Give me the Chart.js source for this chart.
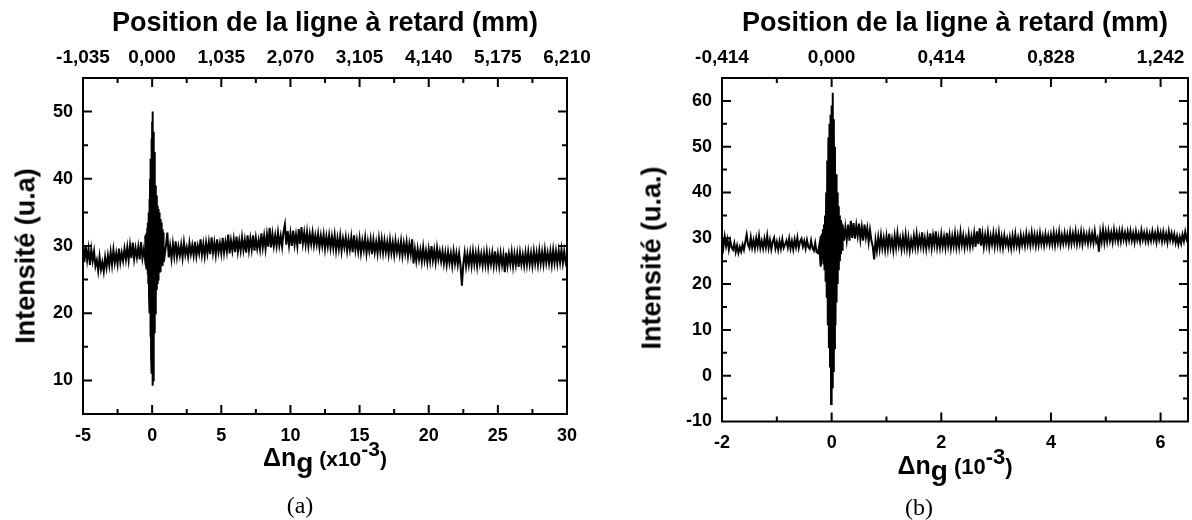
<!DOCTYPE html>
<html>
<head>
<meta charset="utf-8">
<script src="https://cdn.jsdelivr.net/npm/chart.js@4.4.1/dist/chart.umd.min.js"></script>
<style>
  html, body { margin: 0; padding: 0; background: #fff; }
  #page { position: relative; width: 1192px; height: 520px; overflow: hidden; font-family: 'Liberation Sans', Arial, sans-serif; color: #000; }
  canvas { position: absolute; top: 0; }
  #chartA { left: 0; }
  #chartB { left: 600px; }
  .ytitle { position: absolute; font-weight: bold; font-size: 27px; line-height: 1; white-space: nowrap; transform: translate(-50%, -50%) rotate(-90deg); }
  .xtitle { position: absolute; font-weight: bold; line-height: 1; white-space: nowrap; transform: translateX(-50%); }
  .caption { position: absolute; font-family: 'Liberation Serif', 'Times New Roman', serif; font-size: 24px; line-height: 1; transform: translateX(-50%); }
</style>
</head>
<body>
<div id="page">
  <canvas id="chartA" width="600" height="520"></canvas>
  <canvas id="chartB" width="592" height="520"></canvas>

  <div class="ytitle" style="left:26px; top:256px">Intensité (u.a)</div>
  <div class="ytitle" style="left:652px; top:258px">Intensité (u.a.)</div>

  <div class="xtitle" style="left:325px; top:443px; font-size:25px"><span>Δn</span><span style="font-size:28px; position:relative; top:6px">g</span><span style="font-size:21px"> (x10</span><span style="font-size:21px; position:relative; top:-10px">-3</span><span style="font-size:21px">)</span></div>
  <div class="xtitle" style="left:955px; top:451px; font-size:25px"><span>Δn</span><span style="font-size:28px; position:relative; top:6px">g</span><span style="font-size:22px"> (10</span><span style="font-size:22px; position:relative; top:-10px">-3</span><span style="font-size:22px">)</span></div>

  <div class="caption" style="left:300px; top:493px">(a)</div>
  <div class="caption" style="left:919px; top:495px">(b)</div>
</div>

<script>
// Panel (a): delta n_g from -5 to 30 (x10^-3), one sample every 0.1
const traceAStart = -5;
const traceAStep = 0.1;
const intensityA = [
  30.4, 27.6, 30.0, 27.9, 29.6, 27.2, 29.5, 27.8, 29.2, 27.0,
  27.9, 26.3, 28.4, 26.5, 27.6, 26.2, 28.3, 26.8, 28.6, 27.1,
  29.1, 27.2, 29.4, 27.5, 28.9, 27.3, 29.6, 27.6, 29.0, 27.8,
  29.6, 28.0, 29.8, 27.9, 30.1, 28.2, 30.5, 28.1, 29.7, 28.3,
  29.9, 28.0, 30.6, 28.2, 29.5, 27.9, 30.2, 28.3, 29.8, 28.4,
  29.0, 28.3, 30.4, 28.1, 30.2, 28.4, 30.6, 28.3, 29.9, 28.5,
  30.1, 32.0, 28.3, 30.0, 28.1, 30.3, 28.5, 30.7, 28.4, 29.9,
  28.6, 30.2, 28.3, 30.5, 28.7, 29.8, 28.4, 30.4, 28.8, 30.1,
  28.6, 30.6, 28.5, 30.0, 28.9, 31.0, 28.7, 30.3, 28.5, 30.5,
  28.9, 30.6, 28.8, 31.3, 29.0, 30.5, 28.7, 31.0, 29.1, 30.4,
  28.9, 31.2, 29.0, 30.6, 29.2, 31.7, 28.9, 30.8, 29.3, 31.0,
  29.1, 31.4, 29.2, 30.8, 29.3, 31.3, 29.4, 30.9, 29.0, 31.6,
  29.4, 31.1, 29.5, 31.6, 29.3, 31.2, 29.6, 30.9, 29.5, 31.9,
  29.8, 31.5, 29.6, 31.7, 29.9, 32.7, 29.8, 31.8, 30.0, 31.6,
  30.0, 32.0, 30.1, 31.5, 29.9, 32.1, 33.2, 30.2, 32.2, 30.1,
  31.9, 30.0, 32.3, 30.2, 31.7, 30.0, 32.5, 30.3, 32.8, 30.4,
  32.0, 30.2, 32.1, 30.0, 31.8, 30.3, 32.0, 30.1, 31.6, 30.2,
  31.8, 29.8, 31.5, 30.0, 31.7, 29.6, 31.4, 29.9, 31.6, 29.7,
  31.4, 29.7, 31.6, 29.4, 31.2, 29.6, 31.5, 29.3, 31.1, 29.8,
  31.3, 29.3, 31.0, 29.5, 31.3, 29.1, 31.6, 29.4, 30.9, 29.2,
  31.1, 29.0, 30.8, 29.4, 31.2, 28.9, 30.7, 29.3, 31.0, 28.8,
  30.9, 29.1, 30.6, 28.9, 31.1, 29.2, 31.0, 29.0, 30.8, 29.1,
  30.6, 28.8, 30.9, 29.0, 30.5, 28.7, 30.8, 29.1, 30.4, 28.8,
  30.7, 28.6, 30.4, 28.9, 30.6, 28.5, 30.3, 28.8, 31.0, 27.4,
  29.5, 27.8, 29.6, 28.0, 29.4, 27.7, 29.8, 27.9, 29.3, 27.6,
  29.5, 27.8, 30.0, 27.9, 29.4, 27.6, 29.7, 28.0, 29.2, 27.7,
  29.2, 27.4, 29.0, 27.2, 29.1, 27.5, 28.9, 27.1, 29.2, 27.4,
  28.9, 27.2, 28.9, 27.1, 24.1, 27.3, 29.0, 27.0, 28.8, 27.2,
  29.0, 27.1, 29.2, 27.3, 28.9, 27.0, 29.1, 27.4, 28.8, 27.1,
  28.9, 27.2, 29.1, 27.0, 28.8, 27.3, 29.0, 27.1, 29.2, 27.2,
  28.8, 27.0, 28.9, 27.2, 28.7, 26.1, 29.0, 27.1, 28.8, 27.3,
  29.1, 27.0, 28.8, 27.2, 28.9, 26.9, 29.0, 27.3, 28.7, 27.1,
  29.0, 27.2, 29.1, 27.3, 28.9, 27.1, 29.2, 27.4, 29.0, 27.2,
  29.3, 27.4, 29.1, 27.3, 29.4, 27.5, 29.0, 27.4, 29.2, 27.3,
  29.4, 27.5, 29.2, 27.4, 29.3, 27.6, 29.5, 27.5, 29.2, 27.6,
  28.4
];
// interference burst around zero delay, panel (a)
const burstAx = [
  -0.5, -0.475, -0.45, -0.425, -0.4, -0.375, -0.35, -0.325, -0.3, -0.275,
  -0.25, -0.225, -0.2, -0.175, -0.15, -0.125, -0.1, -0.075, -0.05, -0.025,
  0, 0.025, 0.05, 0.075, 0.1, 0.125, 0.15, 0.175, 0.2, 0.225,
  0.25, 0.275, 0.3, 0.325, 0.35, 0.375, 0.4, 0.425, 0.45, 0.475,
  0.5, 0.525, 0.55, 0.575, 0.6, 0.625, 0.65, 0.675, 0.7, 0.725,
  0.75, 0.775, 0.8, 0.825
];
const burstAy = [
  31.5, 27.2, 31.7, 27.0, 32.0, 26.5, 32.7, 25.8, 33.5, 24.5,
  35.0, 22.5, 37.0, 20.0, 40.0, 16.5, 43.0, 13.5, 46.0, 11.0,
  48.5, 9.2, 50.0, 10.0, 47.0, 13.5, 44.0, 17.0, 41.0, 20.0,
  39.0, 22.0, 37.5, 23.5, 36.5, 24.5, 36.0, 25.0, 35.5, 25.8,
  35.0, 26.0, 34.5, 26.3, 34.0, 26.6, 33.5, 27.0, 33.0, 27.2,
  32.5, 27.4, 32.0, 27.6
];
const topLabelsA = ['-1,035', '0,000', '1,035', '2,070', '3,105', '4,140', '5,175', '6,210'];

// Panel (b): delta n_g from -2 to 6.5 (10^-3), one sample every 0.025
const traceBStart = -2;
const traceBStep = 0.025;
const intensityB = [
  30.1, 28.0, 30.4, 28.3, 29.8, 27.6, 29.5, 28.0, 27.5, 28.9,
  27.0, 28.4, 26.8, 28.1, 27.1, 28.6, 27.5, 29.2, 30.8, 28.6,
  27.9, 30.2, 28.0, 29.6, 27.8, 30.0, 28.2, 30.5, 27.9, 29.4,
  27.8, 29.9, 28.1, 30.5, 27.9, 29.6, 27.6, 29.3, 30.1, 27.8,
  29.2, 27.5, 29.4, 27.8, 29.8, 27.9, 28.6, 29.5, 28.0, 29.9,
  27.8, 29.4, 27.6, 29.7, 28.1, 30.1, 27.9, 29.3, 29.9, 28.2,
  29.4, 27.8, 29.6, 28.1, 27.7, 29.5, 27.9, 27.3, 29.0, 27.0,
  26.8, 28.5, 23.8, 27.0, 29.2, 26.6, 29.6, 27.5, 30.4, 27.0,
  29.5, 28.0, 31.0, 27.5, 31.5, 28.3, 32.0, 29.0, 32.6, 29.5,
  32.4, 29.7, 33.0, 29.5, 33.8, 30.1, 33.3, 29.9, 32.8, 30.5,
  33.2, 29.8, 32.4, 29.5, 33.0, 30.2, 32.2, 29.2, 31.8, 29.5,
  28.2, 25.4, 29.6, 27.3, 30.2, 27.7, 30.6, 27.9, 30.0, 27.5,
  30.4, 27.8, 31.0, 28.0, 29.8, 27.4, 30.5, 28.0, 31.1, 28.3,
  30.0, 27.6, 30.3, 28.0, 30.8, 27.8, 30.1, 27.3, 29.7, 27.9,
  30.5, 28.1, 30.9, 28.0, 30.2, 28.3, 31.3, 28.0, 30.0, 27.7,
  30.4, 28.3, 31.1, 27.9, 30.6, 28.5, 31.5, 28.1, 30.2, 28.0,
  30.8, 28.2, 30.3, 28.0, 31.2, 28.4, 30.7, 27.9, 30.4, 28.3,
  31.0, 28.1, 30.5, 28.2, 31.3, 28.6, 30.6, 28.0, 30.2, 28.4,
  30.9, 28.2, 30.4, 28.5, 31.1, 28.1, 31.5, 28.7, 32.2, 28.4,
  31.0, 28.2, 30.7, 28.6, 31.2, 28.1, 30.5, 28.7, 31.1, 28.3,
  30.8, 28.5, 31.2, 28.2, 30.3, 28.0, 30.6, 28.6, 30.0, 28.1,
  30.2, 27.9, 30.5, 28.3, 30.9, 28.4, 30.1, 28.0, 30.7, 28.6,
  30.4, 28.4, 31.0, 28.7, 30.6, 28.5, 31.2, 28.8, 30.8, 28.4,
  30.7, 28.6, 31.1, 28.8, 30.5, 28.5, 30.9, 28.9, 30.6, 28.7,
  30.8, 28.8, 31.2, 28.6, 30.9, 29.0, 31.4, 28.7, 30.7, 28.9,
  31.1, 29.0, 30.8, 28.7, 31.3, 28.9, 31.0, 29.1, 31.5, 28.8,
  30.9, 29.0, 31.4, 28.8, 31.1, 29.2, 30.8, 28.9, 31.2, 29.1,
  31.0, 29.0, 31.5, 29.2, 30.1, 27.1, 31.3, 29.3, 31.9, 29.1,
  31.4, 29.3, 31.6, 29.5, 31.2, 29.2, 31.8, 29.6, 31.3, 29.3,
  31.5, 29.4, 31.7, 29.7, 31.2, 29.3, 31.4, 29.6, 31.6, 29.5,
  31.1, 29.2, 31.5, 29.6, 31.0, 29.3, 31.7, 29.7, 31.2, 29.4,
  31.3, 29.3, 31.0, 29.5, 31.5, 29.6, 31.1, 29.2, 31.6, 29.7,
  31.2, 29.3, 31.4, 29.5, 31.0, 29.1, 31.5, 29.6, 31.1, 29.4,
  30.9, 29.0, 30.5, 28.7, 30.3, 28.9, 30.8, 29.4, 31.4, 29.8,
  30.7
];
// interference burst around zero delay, panel (b)
const burstBx = [
  -0.20, -0.19, -0.18, -0.17, -0.16, -0.15, -0.14, -0.13, -0.12, -0.11,
  -0.10, -0.09, -0.08, -0.07, -0.06, -0.05, -0.04, -0.03, -0.02, -0.01,
  0.00, 0.01, 0.02, 0.03, 0.04, 0.05, 0.06, 0.07, 0.08, 0.09,
  0.10, 0.11, 0.12, 0.13, 0.14, 0.15, 0.16, 0.17, 0.18, 0.19,
  0.20
];
const burstBy = [
  30.5, 26.5, 31.0, 25.5, 32.0, 24.5, 33.0, 23.0, 35.0, 20.5,
  40.0, 17.0, 47.0, 11.0, 52.0, 6.0, 55.0, 2.0, 57.0, -6.2,
  59.0, -2.5, 61.8, 1.0, 56.0, 6.0, 50.0, 11.0, 44.0, 16.0,
  40.0, 20.0, 37.0, 23.0, 35.0, 25.0, 34.0, 26.5, 33.5, 27.5,
  33.0
];
const topLabelsB = ['-0,414', '0,000', '0,414', '0,828', '1,242'];

Chart.defaults.font.family = "'Liberation Sans', Arial, sans-serif";
Chart.defaults.color = '#000';

function isMajor(v, step) {
  return Math.abs(v / step - Math.round(v / step)) < 1e-6;
}

// frame + inward ticks on all four sides (minor ticks shorter)
const frameTicks = {
  id: 'frameTicks',
  afterDraw(chart) {
    const { ctx, chartArea: a, scales } = chart;
    ctx.save();
    ctx.strokeStyle = '#000';
    ctx.lineWidth = 2;
    ctx.strokeRect(a.left, a.top, a.right - a.left, a.bottom - a.top);
    ctx.beginPath();
    scales.x.ticks.forEach(t => {
      const px = scales.x.getPixelForValue(t.value);
      if (px < a.left + 1 || px > a.right - 1) return;
      const len = t.label !== '' ? 9 : 5;
      ctx.moveTo(px, a.bottom); ctx.lineTo(px, a.bottom - len);
      ctx.moveTo(px, a.top); ctx.lineTo(px, a.top + len);
    });
    scales.y.ticks.forEach(t => {
      const py = scales.y.getPixelForValue(t.value);
      if (py < a.top + 1 || py > a.bottom - 1) return;
      const len = t.label !== '' ? 9 : 5;
      ctx.moveTo(a.left, py); ctx.lineTo(a.left + len, py);
      ctx.moveTo(a.right, py); ctx.lineTo(a.right - len, py);
    });
    ctx.stroke();
    ctx.restore();
  }
};

function buildChart(id, p) {
  const ctx = document.getElementById(id).getContext('2d');
  const trace = p.values.map((y, i) => ({ x: +(p.start + i * p.step).toFixed(4), y }));
  const burst = p.burstX.map((x, i) => ({ x, y: p.burstY[i] }));
  return new Chart(ctx, {
    type: 'line',
    data: {
      datasets: [
        { data: trace, borderColor: '#000', borderWidth: 2, pointRadius: 0, xAxisID: 'x', yAxisID: 'y' },
        { data: burst, borderColor: '#000', borderWidth: 2, pointRadius: 0, xAxisID: 'x', yAxisID: 'y' }
      ]
    },
    options: {
      responsive: false,
      animation: false,
      layout: { padding: { left: 0, right: p.padRight, top: 0, bottom: 0 } },
      plugins: { legend: { display: false }, tooltip: { enabled: false } },
      elements: { line: { tension: 0 } },
      scales: {
        x: {
          type: 'linear', position: 'bottom', min: p.xMin, max: p.xMax,
          grid: { display: false, drawTicks: false }, border: { display: false },
          ticks: {
            stepSize: p.xStep, autoSkip: false, maxRotation: 0, includeBounds: false, padding: 11,
            font: { size: 18, weight: 'bold' },
            callback: v => isMajor(v, p.xMajor) ? String(v) : ''
          },
          afterFit: s => { s.height = p.bottomH; s.paddingLeft = 0; s.paddingRight = 0; }
        },
        xTop: {
          type: 'linear', position: 'top', min: p.xMin, max: p.xMax,
          grid: { display: false, drawTicks: false }, border: { display: false },
          ticks: {
            stepSize: p.xStep, autoSkip: false, maxRotation: 0, includeBounds: false, padding: 9,
            font: { size: 19, weight: 'bold' },
            callback: v => isMajor(v, p.xMajor) ? p.topLabels[Math.round((v - p.xMin) / p.xMajor)] : ''
          },
          title: {
            display: true, text: 'Position de la ligne à retard (mm)',
            font: { size: 27, weight: 'bold' }, padding: { top: 7, bottom: 0 }
          },
          afterFit: s => { s.height = 78; s.paddingLeft = 0; s.paddingRight = 0; }
        },
        y: {
          type: 'linear', position: 'left', min: p.yMin, max: p.yMax,
          grid: { display: false, drawTicks: false }, border: { display: false },
          ticks: {
            stepSize: 5, autoSkip: false, includeBounds: false, padding: 10,
            font: { size: 18, weight: 'bold' },
            callback: v => isMajor(v, 10) ? String(v) : ''
          },
          afterFit: s => { s.width = p.yWidth; s.paddingTop = 0; s.paddingBottom = 0; }
        }
      }
    },
    plugins: [frameTicks]
  });
}

buildChart('chartA', {
  values: intensityA, start: traceAStart, step: traceAStep,
  burstX: burstAx, burstY: burstAy, topLabels: topLabelsA,
  xMin: -5, xMax: 30, xStep: 2.5, xMajor: 5,
  yMin: 5, yMax: 55,
  yWidth: 83, bottomH: 106, padRight: 33
});

buildChart('chartB', {
  values: intensityB, start: traceBStart, step: traceBStep,
  burstX: burstBx, burstY: burstBy, topLabels: topLabelsB,
  xMin: -2, xMax: 6.5, xStep: 1, xMajor: 2,
  yMin: -10, yMax: 65,
  yWidth: 122, bottomH: 98.5, padRight: 4
});
</script>
</body>
</html>
